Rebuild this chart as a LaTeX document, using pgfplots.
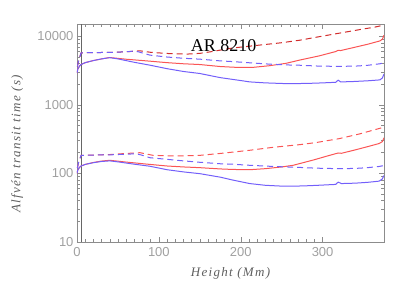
\documentclass[border=0pt]{standalone}
\usepackage{fontspec}
\setmainfont{Liberation Sans}
\newfontfamily\titlefont{Liberation Serif}
\newfontfamily\labfont[LetterSpace=10]{Liberation Serif}
\usepackage{pgfplots}
\pgfplotsset{compat=1.18}
\definecolor{myred}{RGB}{250,85,85}
\definecolor{mydred}{RGB}{210,45,45}
\definecolor{myblue}{RGB}{115,95,250}
\definecolor{axgray}{RGB}{140,140,140}
\definecolor{tickgray}{RGB}{160,160,160}
\definecolor{labgray}{RGB}{95,95,95}
\begin{document}
\begin{tikzpicture}
\path[use as bounding box] (0pt,0pt) rectangle (407pt,291pt);
\begin{axis}[at={(77pt,49pt)}, anchor=south west, scale only axis,
  width=307pt, height=218pt,
  ymode=log, xmin=0, xmax=375, ymin=10, ymax=15000,
  axis line style={axgray}, every tick/.style={axgray}, tick align=inside,
  xtick={0,100,200,300}, xticklabels={0,100,200,300}, minor x tick num=9,
  ytick={10,100,1000,10000}, yticklabels={10,100,1000,10000},
  major tick length=5pt, minor tick length=3pt,
  ticklabel style={font=\fontsize{13}{13}\selectfont, text=tickgray},
  xticklabel style={yshift=-2pt},
  xlabel={Height (Mm)}, ylabel={Alfvén transit time (s)},
  every axis x label/.style={at={(axis description cs:0.5,-0.142)}, anchor=center},
  every axis y label/.style={at={(axis description cs:-0.195,0.45)}, rotate=90, anchor=center},
  label style={font=\labfont\itshape\fontsize{13}{13}\selectfont, text=labgray},
  every axis plot/.append style={line width=1pt},
  clip=true,
]
\draw[black!60, line width=0.6pt] (axis cs:5,10) -- (axis cs:5,15000);
% upper group
\addplot[mydred, dash pattern=on 6pt off 4pt] coordinates {
(0.5,3600)(2,4400)(5,5700)(20,5750)(40,5780)(60,5900)(77,6100)(90,5800)(110,5580)(134,5460)(150,5600)(163,5900)(190,6700)(223,7390)(250,8000)(272,8700)(296,9800)(320,11000)(345,12400)(365,13600)(375,14500)};
\addplot[myred] coordinates {
(0,2900)(1,3300)(3,3650)(5,3850)(10,4100)(20,4400)(30,4650)(40,4870)(60,4600)(89,4310)(110,4100)(130,3950)(150,3850)(175,3600)(195,3500)(215,3500)(235,3700)(255,4000)(272,4470)(296,5150)(316,5950)(319,6200)(322,6150)(340,6900)(355,7600)(370,8500)(373,9000)(375,10300)};
\addplot[myblue, dash pattern=on 6pt off 4pt] coordinates {
(0.5,3600)(2,4400)(5,5700)(20,5750)(40,5780)(60,5900)(69,6040)(75,5900)(89,5280)(110,4950)(130,4750)(150,4610)(175,4350)(190,4250)(211,4080)(235,3900)(255,3800)(272,3760)(296,3650)(320,3620)(340,3650)(355,3750)(370,3950)(375,4100)};
\addplot[myblue] coordinates {
(0,2900)(1,3300)(3,3650)(5,3850)(10,4100)(20,4400)(30,4650)(40,4850)(50,4650)(70,4150)(89,3770)(110,3350)(130,3050)(150,2850)(175,2480)(200,2250)(211,2150)(230,2080)(255,2030)(280,2040)(300,2080)(316,2120)(319,2280)(322,2150)(335,2170)(355,2230)(370,2300)(373,2450)(375,2800)};
% lower group
\addplot[myred, dash pattern=on 6pt off 4pt] coordinates {
(0.5,120)(2,145)(5,183)(20,185)(40,188)(60,195)(77,200)(93,183)(120,179)(150,183)(175,195)(211,217)(240,240)(272,262)(292,281)(320,320)(345,375)(369,450)(375,470)};
\addplot[myred] coordinates {
(0,100)(1,112)(3,122)(5,128)(10,135)(20,144)(30,151)(40,155)(60,146)(89,135)(110,128)(130,124)(150,121)(175,116)(190,114)(211,113)(230,117)(250,124)(264,131)(290,158)(305,178)(319,198)(323,196)(340,220)(355,245)(369,272)(373,290)(375,330)};
\addplot[myblue, dash pattern=on 6pt off 4pt] coordinates {
(0.5,120)(2,145)(5,183)(20,185)(40,186)(60,190)(72,193)(78,186)(89,169)(110,160)(130,152)(150,145)(175,138)(190,136)(211,131)(240,126)(272,122)(292,119)(320,117)(340,118)(355,121)(369,126)(375,130)};
\addplot[myblue] coordinates {
(0,100)(1,112)(3,122)(5,128)(10,135)(20,143)(30,149)(40,152)(50,147)(70,136)(89,127)(110,113)(130,105)(150,99)(175,88)(190,80)(211,71)(230,67)(252,65)(275,65.5)(292,66.8)(316,69)(319,74.6)(323,71)(340,72)(355,74)(369,77)(373,83)(375,93)};
\node[anchor=base, font=\titlefont\fontsize{18}{18}\selectfont, text=black] at (axis cs:179,5900) {AR 8210};
\end{axis}
\end{tikzpicture}
\end{document}
